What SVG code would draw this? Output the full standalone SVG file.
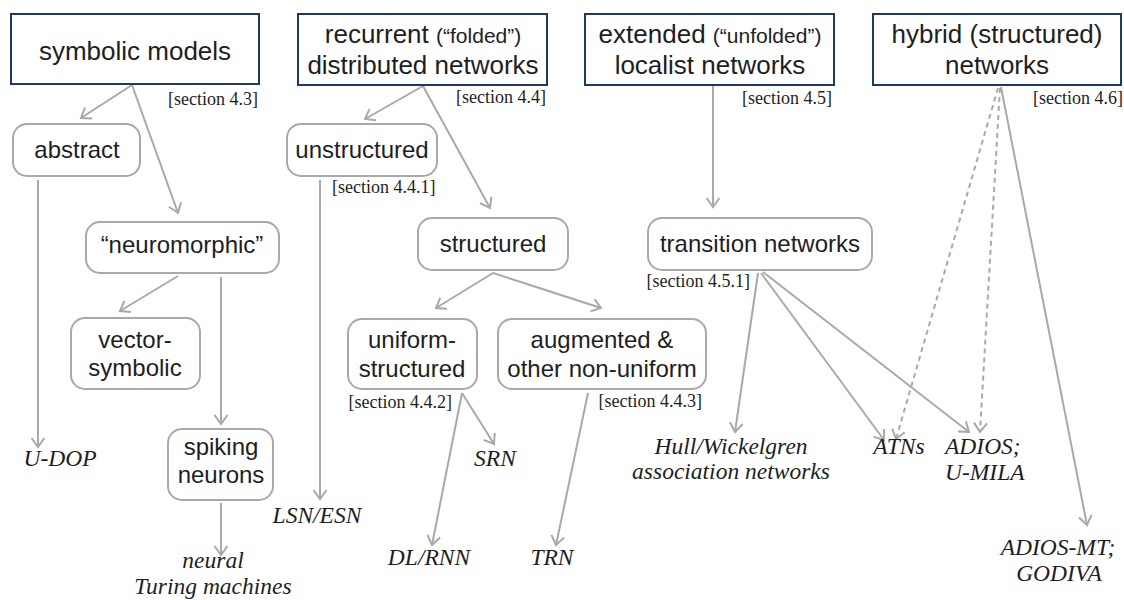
<svg xmlns="http://www.w3.org/2000/svg" width="1124" height="600" viewBox="0 0 1124 600">
  <style>
    .top { fill: #ffffff; stroke: #1b3a64; stroke-width: 2; }
    .sub { fill: #ffffff; stroke: #a9a9a9; stroke-width: 2; }
    .lbl { font-family: "Liberation Sans", Arial, sans-serif; fill: #1e1e1e; text-anchor: middle; }
    .big { font-size: 26px; }
    .mid { font-size: 24px; }
    .paren { font-size: 21px; }
    .sec { font-family: "Liberation Serif", "Times New Roman", serif; font-size: 18px; fill: #1e1e1e; }
    .ex { font-family: "Liberation Serif", "Times New Roman", serif; font-style: italic; font-size: 23.5px; fill: #1e1e1e; text-anchor: middle; }
    .left { text-anchor: start; }
    .end { text-anchor: end; }
    .edge { fill: none; stroke: #a9a9a9; stroke-width: 2; marker-end: url(#head); }
    .dash { stroke-dasharray: 5 4; }
  </style>
  <defs>
    <marker id="head" viewBox="-12 -8 14 16" markerWidth="14" markerHeight="16" refX="0" refY="0" orient="auto" markerUnits="userSpaceOnUse">
      <path d="M-9,-6.5 L0,0 L-9,6.5" fill="none" stroke="#a9a9a9" stroke-width="2" stroke-linejoin="miter"/>
    </marker>
  </defs>

  <!-- connectors -->
  <g id="connectors">
    <line class="edge" x1="132" y1="85" x2="81" y2="118"/>
    <line class="edge" x1="132" y1="85" x2="178" y2="213"/>
    <line class="edge" x1="38" y1="180" x2="38" y2="447"/>
    <line class="edge" x1="178" y1="276" x2="120" y2="311"/>
    <line class="edge" x1="221" y1="277" x2="221" y2="424"/>
    <line class="edge" x1="221" y1="503" x2="221" y2="555"/>
    <line class="edge" x1="423" y1="86" x2="365" y2="119"/>
    <line class="edge" x1="423" y1="86" x2="490" y2="208"/>
    <line class="edge" x1="320" y1="180" x2="320" y2="499"/>
    <line class="edge" x1="493" y1="273" x2="436" y2="308"/>
    <line class="edge" x1="493" y1="273" x2="601" y2="308"/>
    <line class="edge" x1="462" y1="393" x2="494" y2="444"/>
    <line class="edge" x1="462" y1="393" x2="432" y2="545"/>
    <line class="edge" x1="588" y1="393" x2="556" y2="545"/>
    <line class="edge" x1="713" y1="86" x2="713" y2="207"/>
    <line class="edge" x1="758" y1="273" x2="735" y2="432"/>
    <line class="edge" x1="761" y1="273" x2="884" y2="440"/>
    <line class="edge" x1="763" y1="272" x2="969" y2="432"/>
    <line class="edge dash" x1="998" y1="88" x2="896" y2="439"/>
    <line class="edge dash" x1="1000" y1="88" x2="980" y2="432"/>
    <line class="edge" x1="1001" y1="87" x2="1087" y2="525"/>
  </g>

  <!-- top-level categories -->
  <g id="symbolic-models">
    <rect class="top" x="11" y="14" width="248" height="70"/>
    <text class="lbl big" x="135" y="60">symbolic models</text>
    <text class="sec end" x="258" y="105">[section 4.3]</text>
  </g>
  <g id="recurrent-networks">
    <rect class="top" x="298" y="14" width="249" height="71"/>
    <text class="lbl big" x="423" y="43">recurrent <tspan class="paren">(“folded”)</tspan></text>
    <text class="lbl big" x="423" y="74">distributed networks</text>
    <text class="sec end" x="546" y="103">[section 4.4]</text>
  </g>
  <g id="extended-networks">
    <rect class="top" x="585" y="14" width="249" height="71"/>
    <text class="lbl big" x="710" y="43">extended <tspan class="paren">(“unfolded”)</tspan></text>
    <text class="lbl big" x="710" y="74">localist networks</text>
    <text class="sec end" x="832" y="104">[section 4.5]</text>
  </g>
  <g id="hybrid-networks">
    <rect class="top" x="873" y="14" width="248" height="71"/>
    <text class="lbl big" x="997" y="43">hybrid (structured)</text>
    <text class="lbl big" x="997" y="74">networks</text>
    <text class="sec end" x="1123" y="104">[section 4.6]</text>
  </g>

  <!-- sub-categories -->
  <g id="abstract">
    <rect class="sub" x="13" y="124" width="127" height="52" rx="14"/>
    <text class="lbl mid" x="77" y="158">abstract</text>
  </g>
  <g id="neuromorphic">
    <rect class="sub" x="86" y="222" width="193" height="51" rx="14"/>
    <text class="lbl mid" x="182" y="253">“neuromorphic”</text>
  </g>
  <g id="vector-symbolic">
    <rect class="sub" x="71" y="318" width="129" height="71" rx="14"/>
    <text class="lbl mid" x="135" y="348">vector-</text>
    <text class="lbl mid" x="135" y="376">symbolic</text>
  </g>
  <g id="spiking-neurons">
    <rect class="sub" x="168" y="429" width="105" height="71" rx="14"/>
    <text class="lbl mid" x="221" y="455">spiking</text>
    <text class="lbl mid" x="221" y="483">neurons</text>
  </g>
  <g id="unstructured">
    <rect class="sub" x="287" y="124" width="150" height="52" rx="14"/>
    <text class="lbl mid" x="362" y="158">unstructured</text>
    <text class="sec" x="332" y="193">[section 4.4.1]</text>
  </g>
  <g id="structured">
    <rect class="sub" x="418" y="218" width="150" height="52" rx="14"/>
    <text class="lbl mid" x="493" y="252">structured</text>
  </g>
  <g id="uniform-structured">
    <rect class="sub" x="348" y="319" width="129" height="70" rx="14"/>
    <text class="lbl mid" x="412" y="348">uniform-</text>
    <text class="lbl mid" x="412" y="377">structured</text>
    <text class="sec end" x="452" y="408">[section 4.4.2]</text>
  </g>
  <g id="augmented">
    <rect class="sub" x="498" y="319" width="208" height="70" rx="14"/>
    <text class="lbl mid" x="602" y="348">augmented &amp;</text>
    <text class="lbl mid" x="602" y="377">other non-uniform</text>
    <text class="sec end" x="702" y="407">[section 4.4.3]</text>
  </g>
  <g id="transition-networks">
    <rect class="sub" x="648" y="218" width="224" height="52" rx="14"/>
    <text class="lbl mid" x="760" y="252">transition networks</text>
    <text class="sec end" x="750" y="287">[section 4.5.1]</text>
  </g>

  <!-- example models -->
  <g id="u-dop"><text class="ex" x="60" y="466">U-DOP</text></g>
  <g id="neural-turing-machines">
    <text class="ex" x="213" y="568">neural</text>
    <text class="ex" x="213" y="594">Turing machines</text>
  </g>
  <g id="lsn-esn"><text class="ex" x="317" y="523">LSN/ESN</text></g>
  <g id="srn"><text class="ex" x="495" y="466">SRN</text></g>
  <g id="dl-rnn"><text class="ex" x="429" y="565">DL/RNN</text></g>
  <g id="trn"><text class="ex" x="552" y="565">TRN</text></g>
  <g id="hull-wickelgren">
    <text class="ex" x="731" y="454">Hull/Wickelgren</text>
    <text class="ex" x="731" y="479">association networks</text>
  </g>
  <g id="atns"><text class="ex" x="899" y="454">ATNs</text></g>
  <g id="adios-umila">
    <text class="ex left" x="945" y="454">ADIOS;</text>
    <text class="ex left" x="945" y="480">U-MILA</text>
  </g>
  <g id="adios-mt-godiva">
    <text class="ex" x="1058" y="555">ADIOS-MT;</text>
    <text class="ex" x="1059" y="581">GODIVA</text>
  </g>
</svg>
